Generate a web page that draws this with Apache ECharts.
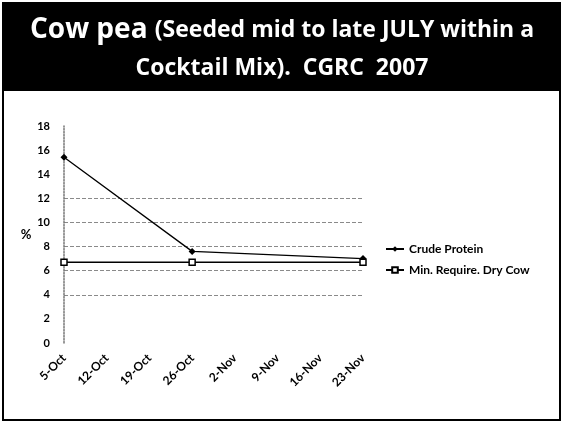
<!DOCTYPE html>
<html><head><meta charset="utf-8">
<script src="https://cdn.jsdelivr.net/npm/echarts@6/dist/echarts.min.js"></script>
<style>html,body{margin:0;padding:0;background:#fff}#c{width:564px;height:426px}</style>
</head><body><div id="c"></div>
<script>
var categories = ['5-Oct','12-Oct','19-Oct','26-Oct','2-Nov','9-Nov','16-Nov','23-Nov'];
var crudeProtein = [15.4, null, null, 7.6, null, null, null, 7.0];
var minRequire = [6.7, null, null, 6.7, null, null, null, 6.7];
var seriesNames = ['Crude Protein', 'Min. Require. Dry Cow'];
var yTicks = [0, 18, 2];

var chart = echarts.init(document.getElementById('c'));
var font = 'Lato, "Open Sans", sans-serif';
var tfont = '"Open Sans", Lato, sans-serif';
var gridColors = [];
for (var v = yTicks[0]; v <= yTicks[1]; v += yTicks[2]) {
  gridColors.push(v >= 4 && v <= 12 ? '#8a8a8a' : 'rgba(0,0,0,0)');
}
chart.setOption({
  animation: false,
  backgroundColor: '#fff',
  graphic: [
    {type:'rect', shape:{x:3,y:3,width:558,height:88}, style:{fill:'#000'}},
    {type:'rect', shape:{x:3,y:3,width:557,height:417}, style:{fill:'none', stroke:'#000', lineWidth:2}},
    {type:'text', left:'center', top:16, style:{rich:{a:{fontSize:28,fontWeight:'bold',fill:'#fff',fontFamily:tfont},b:{fontSize:23,fontWeight:'bold',fill:'#fff',fontFamily:tfont}}, text:'{a|Cow pea }{b|(Seeded mid to late JULY within a}'}},
    {type:'text', left:'center', top:57, style:{fontSize:23,fontWeight:'bold',fill:'#fff',fontFamily:tfont,text:'Cocktail Mix).  CGRC  2007'}}
  ],
  grid: {left:64, right:201, top:126, bottom:83},
  legend: {
    orient:'vertical', left:380, top:238, itemGap:9, itemWidth:18, itemHeight:7,
    textStyle:{fontSize:12, color:'#000', fontFamily:font, fontWeight:'bold'},
    data: seriesNames
  },
  xAxis: {
    type:'category', data:categories, boundaryGap:false,
    axisLine:{show:false}, axisTick:{show:false},
    axisLabel:{rotate:45, color:'#000', fontSize:12, fontWeight:'bold', fontFamily:font, margin:13, interval:0}
  },
  yAxis: {
    type:'value', min:yTicks[0], max:yTicks[1], interval:yTicks[2],
    name:'%', nameLocation:'middle', nameRotate:0, nameGap:30,
    nameTextStyle:{fontSize:13, color:'#000', fontWeight:'bold', fontFamily:font},
    axisLine:{show:true, lineStyle:{color:'#777', type:'dotted', width:1.5}},
    axisTick:{show:false},
    axisLabel:{color:'#000', fontSize:11, fontWeight:'bold', fontFamily:font, margin:14},
    splitLine:{show:true, lineStyle:{color:gridColors, type:'dashed', width:1}}
  },
  series: [
    {name:seriesNames[0], type:'line', data:crudeProtein, connectNulls:true,
     symbol:'diamond', symbolSize:7, showAllSymbol:true,
     lineStyle:{color:'#000', width:1.3}, itemStyle:{color:'#000'}},
    {name:seriesNames[1], type:'line', data:minRequire, connectNulls:true,
     symbol:'rect', symbolSize:6, showAllSymbol:true,
     lineStyle:{color:'#000', width:1.6}, itemStyle:{color:'#fff', borderColor:'#000', borderWidth:1.5}}
  ]
});
</script></body></html>
